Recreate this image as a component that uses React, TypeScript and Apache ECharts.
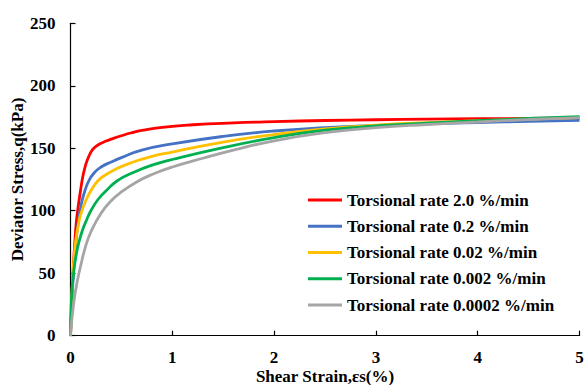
import React, { useEffect, useRef } from "react";
import * as echarts from "echarts";

const seriesNames = [
  "Torsional rate 2.0 %/min",
  "Torsional rate 0.2 %/min",
  "Torsional rate 0.02 %/min",
  "Torsional rate 0.002 %/min",
  "Torsional rate 0.0002 %/min",
];
const colors = ["#FF0000", "#4472C4", "#FFC000", "#00B050", "#A5A5A5"];

const rate20: [number, number][] = [
  [0, 0], [0.01, 22], [0.02, 42], [0.03, 58], [0.045, 78], [0.06, 93], [0.08, 106],
  [0.1, 117], [0.12, 127], [0.14, 134], [0.16, 139.5], [0.18, 143.5], [0.2, 146.8],
  [0.22, 149.2], [0.25, 151.5], [0.29, 153.6], [0.35, 155.8], [0.4, 157.3], [0.5, 160],
  [0.6, 162.4], [0.7, 164.3], [0.9, 166.8], [1.2, 168.8], [1.6, 170.3], [2.0, 171.3],
  [2.5, 172.2], [3.0, 172.8], [3.5, 173.3], [4.0, 173.6], [4.5, 173.9], [5.0, 174.2],
];
const rate02: [number, number][] = [
  [0, 0], [0.01, 20], [0.02, 38], [0.04, 62], [0.06, 80], [0.08, 93], [0.1, 103],
  [0.13, 113], [0.18, 124], [0.24, 131], [0.3, 135], [0.4, 139], [0.5, 142.5],
  [0.7, 148.5], [1.0, 153.5], [1.5, 159.5], [2.0, 163.8], [2.5, 166.5], [3.0, 168.3],
  [3.5, 169.6], [4.0, 170.6], [4.5, 171.5], [5.0, 172.3],
];
const rate002: [number, number][] = [
  [0, 0], [0.01, 22], [0.02, 44], [0.03, 58], [0.05, 75], [0.08, 90], [0.1, 97],
  [0.15, 108], [0.2, 116], [0.27, 124], [0.35, 129], [0.45, 133.5], [0.6, 138.5],
  [0.8, 143.5], [1.0, 147], [1.5, 155], [2.0, 161], [2.5, 165.5], [3.0, 168.5],
  [3.5, 170.5], [4.0, 172], [4.5, 173.3], [5.0, 174.5],
];
const rate0002: [number, number][] = [
  [0, 0], [0.005, 20], [0.015, 37], [0.03, 50], [0.05, 62], [0.08, 74], [0.12, 85],
  [0.16, 93], [0.2, 100], [0.27, 109], [0.35, 116], [0.46, 124], [0.6, 130],
  [0.8, 136.5], [1.0, 141], [1.5, 150.5], [2.0, 158.5], [2.5, 164.5], [3.0, 167.8],
  [3.5, 170], [4.0, 172], [4.5, 173.8], [5.0, 175.3],
];
const rate00002: [number, number][] = [
  [0, 0], [0.01, 10], [0.02, 18], [0.04, 31], [0.07, 45], [0.1, 56], [0.15, 72],
  [0.2, 83], [0.3, 98], [0.4, 108], [0.5, 115], [0.65, 123], [0.8, 129], [1.0, 135],
  [1.3, 142], [1.6, 148.5], [2.0, 156], [2.5, 162.5], [3.0, 166.5], [3.5, 169],
  [4.0, 171], [4.5, 173], [5.0, 174.5],
];
const allData = [rate20, rate02, rate002, rate0002, rate00002];

const FONT = "'Liberation Serif', 'Times New Roman', serif";

export default function App() {
  const ref = useRef<HTMLDivElement>(null);
  useEffect(() => {
    if (!ref.current) return;
    const chart = echarts.init(ref.current, null, { renderer: "svg" });
    chart.setOption({
      animation: false,
      backgroundColor: "#ffffff",
      textStyle: { fontFamily: FONT },
      grid: {
        left: 70.5,
        right: 6.5,
        top: 23.3,
        bottom: 49.3,
        containLabel: false,
        outerBoundsMode: "none",
      },
      legend: {
        orient: "vertical",
        left: 308,
        top: 191.5,
        padding: 0,
        itemWidth: 34,
        itemHeight: 3,
        itemGap: 9.25,
        icon: "rect",
        textStyle: { fontFamily: FONT, fontWeight: "bold", fontSize: 17, color: "#000" },
        data: seriesNames,
      },
      xAxis: {
        type: "value",
        min: 0,
        max: 5,
        interval: 1,
        name: "Shear Strain,εs(%)",
        nameLocation: "middle",
        nameGap: 32,
        nameMoveOverlap: false,
        nameTextStyle: { fontFamily: FONT, fontWeight: "bold", fontSize: 17, color: "#000" },
        axisLine: { show: true, lineStyle: { color: "#000", width: 1.2 } },
        axisTick: { show: true, inside: true, length: 5, lineStyle: { color: "#000", width: 1.2 } },
        axisLabel: { fontFamily: FONT, fontWeight: "bold", fontSize: 17, color: "#000", margin: 13 },
        splitLine: { show: false },
      },
      yAxis: {
        type: "value",
        min: 0,
        max: 250,
        interval: 50,
        name: "Deviator Stress,q(kPa)",
        nameLocation: "middle",
        nameGap: 45,
        nameMoveOverlap: false,
        nameTextStyle: { fontFamily: FONT, fontWeight: "bold", fontSize: 17, color: "#000" },
        axisLine: { show: true, lineStyle: { color: "#000", width: 1.2 } },
        axisTick: { show: true, inside: true, length: 5, lineStyle: { color: "#000", width: 1.2 } },
        axisLabel: { fontFamily: FONT, fontWeight: "bold", fontSize: 17, color: "#000", margin: 15 },
        splitLine: { show: false },
      },
      series: seriesNames.map((name, i) => ({
        name,
        type: "line",
        data: allData[i],
        showSymbol: false,
        symbol: "none",
        smooth: 0.5,
        z: 2 + i,
        lineStyle: { color: colors[i], width: 2.8 },
        itemStyle: { color: colors[i] },
      })),
    });
    return () => chart.dispose();
  }, []);
  return (
    <div
      ref={ref}
      style={{ position: "fixed", left: 0, top: 0, width: 586, height: 385 }}
    />
  );
}
